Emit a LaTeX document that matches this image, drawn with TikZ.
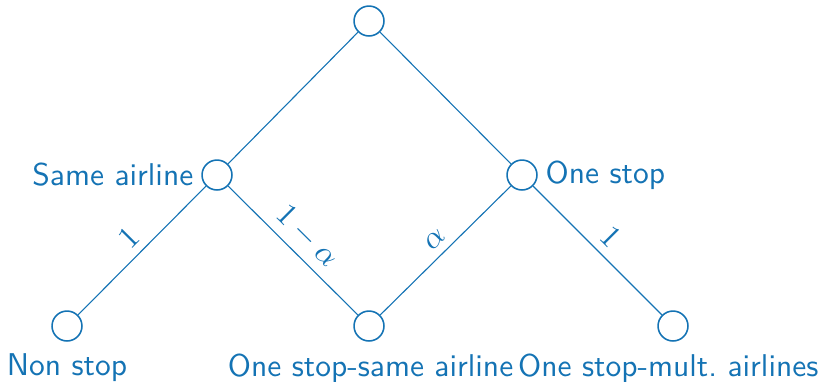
\documentclass[tikz,border=0pt]{standalone}
\usepackage{xcolor}
\definecolor{tblue}{RGB}{20,115,180}
\begin{document}
\begin{tikzpicture}[x=0.3175pt,y=-0.3175pt,
  every node/.style={text=tblue,font=\sffamily},
  state/.style={circle,draw=tblue,line width=0.5pt,minimum size=9.5pt,inner sep=0pt},
  edge/.style={draw=tblue,line width=0.35pt},
  elabel/.style={midway,sloped,above,inner sep=2.5pt}]
\useasboundingbox (0,0) rectangle (825,381);
\node[state] (top) at (369,21) {};
\node[state] (sa) at (217,175) {};
\node[state] (os) at (522,175) {};
\node[state] (ns) at (67,326) {};
\node[state] (ossa) at (369,326) {};
\node[state] (osma) at (673,326) {};
\node[anchor=east] (salab) at ([xshift=1pt]sa.west) {Same airline};
\node[anchor=west] (oslab) at ([xshift=-1pt]os.east) {One stop};
\node[anchor=north] (nslab) at ([yshift=-0.3pt]ns.south) {Non stop};
\node[anchor=north] (ossalab) at ([yshift=-0.3pt,xshift=0.5pt]ossa.south) {One stop-same airline};
\node[anchor=north] (osmalab) at ([yshift=-0.3pt,xshift=-1.5pt]osma.south) {One stop-mult.\ airlines};
\draw[edge] (top) -- (sa);
\draw[edge] (top) -- (os);
\draw[edge] (ns) -- node[elabel] {$1$} (sa);
\draw[edge] (sa) -- node[elabel] {$1-\alpha$} (ossa);
\draw[edge] (ossa) -- node[elabel] {$\alpha$} (os);
\draw[edge] (os) -- node[elabel] {$1$} (osma);
\end{tikzpicture}
\end{document}
